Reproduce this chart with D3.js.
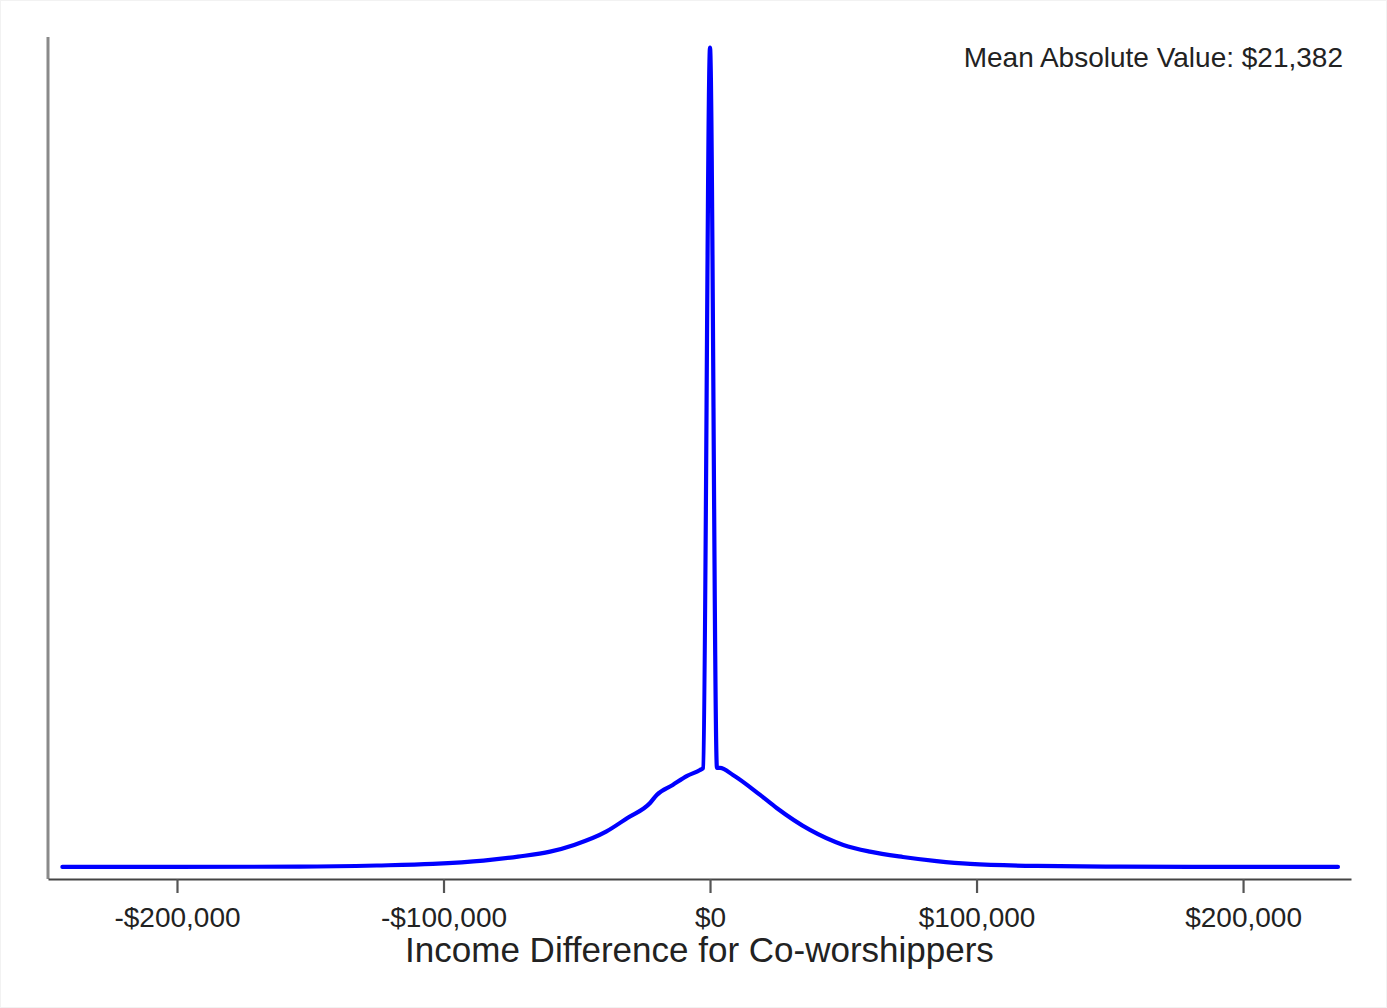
<!DOCTYPE html>
<html>
<head>
<meta charset="utf-8">
<script src="https://cdn.jsdelivr.net/npm/d3@7"></script>
<style>
  html, body { margin: 0; padding: 0; background: #fff; }
  svg { display: block; }
  text { font-family: "Liberation Sans", Arial, sans-serif; fill: #222; }
</style>
</head>
<body>
<svg id="chart" width="1387" height="1008"></svg>
<script>
// Income difference (thousands of $) and relative kernel density (peak = 100)
const incomeDiff = [-243, -200, -154, -125, -104, -85, -72, -60, -51, -39, -31, -22.5, -20, -14, -8.6, -3.75, -2.6,
                    0,
                    2.6, 3.75, 8.6, 18.8, 25, 37.5, 50, 60, 72.4, 85, 97.6, 122.7, 153.8, 200, 235.6];
const density    = [0, 0, 0.04, 0.18, 0.37, 0.77, 1.26, 1.87, 2.69, 4.31, 5.98, 7.81, 8.79, 10.01, 11.11, 11.84, 12.09,
                    100,
                    12.09, 12.09, 11.23, 8.79, 7.20, 4.52, 2.69, 1.87, 1.22, 0.72, 0.37, 0.12, 0.04, 0, 0];
const tickValues = [-200, -100, 0, 100, 200];
const tickLabels = ["-$200,000", "-$100,000", "$0", "$100,000", "$200,000"];
const xTitle = "Income Difference for Co-worshippers";
const note = "Mean Absolute Value: $21,382";

(function () {
const svg = d3.select("#chart");
const W = 1387, H = 1008;
const mLeft = 48, mRight = 1351, mTop = 37, mBottom = 879;

svg.append("rect").attr("x", 0.5).attr("y", 0.5).attr("width", W - 1).attr("height", H - 1)
  .attr("fill", "#fff").attr("stroke", "#f2f2f2");

const x = d3.scaleLinear().domain([-248.4, 240.5]).range([mLeft, mRight]);
const y = d3.scaleLinear().domain([-1.47, 101.3]).range([mBottom, mTop]);

// Y axis line
svg.append("line").attr("x1", mLeft).attr("x2", mLeft).attr("y1", mTop).attr("y2", mBottom)
  .attr("stroke", "#8a8a8a").attr("stroke-width", 3);

// X axis
const xAxis = d3.axisBottom(x).tickValues(tickValues).tickSize(14).tickSizeOuter(0)
  .tickFormat((d, i) => tickLabels[i]);
const gx = svg.append("g").attr("transform", `translate(0,${mBottom})`).call(xAxis);
gx.select(".domain").attr("stroke", "#444").attr("stroke-width", 2.2);
gx.selectAll(".tick line").attr("stroke", "#555").attr("stroke-width", 2.2);
gx.selectAll(".tick text").attr("y", 0).attr("dy", 0)
  .attr("transform", "translate(0,48)")
  .style("font-size", "28px").style("font-family", '"Liberation Sans", Arial, sans-serif')
  .attr("fill", "#222");

// Axis title
svg.append("text").attr("x", (mLeft + mRight) / 2).attr("y", 962)
  .attr("text-anchor", "middle").style("font-size", "35px").text(xTitle);

// Note
svg.append("text").attr("x", 1343).attr("y", 67)
  .attr("text-anchor", "end").style("font-size", "28px").text(note);

// Density line
const line = d3.line().x((d, i) => x(incomeDiff[i])).y(d => y(d)).curve(d3.curveMonotoneX);
svg.append("path").datum(density).attr("d", line)
  .attr("fill", "none").attr("stroke", "#0000ff").attr("stroke-width", 4.2)
  .attr("stroke-linejoin", "round").attr("stroke-linecap", "round");
})();
</script>
</body>
</html>
